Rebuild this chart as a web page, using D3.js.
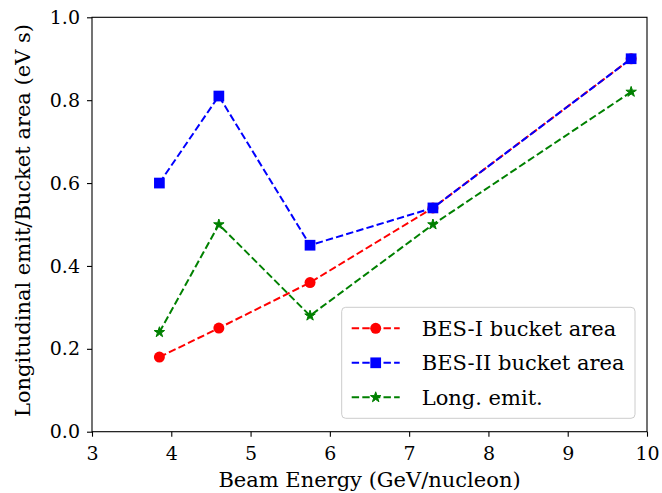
<!DOCTYPE html>
<html>
<head>
<meta charset="utf-8">
<script src="https://cdn.jsdelivr.net/npm/d3@7"></script>
<style>
  html, body { margin: 0; padding: 0; background: #fff; }
  svg text { font-family: "DejaVu Serif", "Liberation Serif", serif; fill: #000; }
</style>
</head>
<body>
<svg id="chart" width="662" height="493"></svg>
<script>
// Beam energies (GeV/nucleon)
const energies = [3.85, 4.6, 5.75, 7.3, 9.8];
// Series values
const besIArea = [0.18, 0.25, 0.36, 0.54, 0.90];
const besIIArea = [0.60, 0.81, 0.45, 0.54, 0.90];
const longEmit = [0.24, 0.50, 0.28, 0.50, 0.82];
// Axis ticks
const xTicks = [3, 4, 5, 6, 7, 8, 9, 10];
const yTicks = [0.0, 0.2, 0.4, 0.6, 0.8, 1.0];

const series = [
  { name: "BES-I bucket area", values: besIArea, color: "#ff0000", marker: "circle" },
  { name: "BES-II bucket area", values: besIIArea, color: "#0000ff", marker: "square" },
  { name: "Long. emit.", values: longEmit, color: "#008000", marker: "star" }
];

const svg = d3.select("#chart");
const margin = { left: 92, right: 15, top: 17.3, bottom: 61.3 };
const W = 662, H = 493;
const x = d3.scaleLinear().domain([3, 10]).range([margin.left, W - margin.right]);
const y = d3.scaleLinear().domain([0, 1]).range([H - margin.bottom, margin.top]);

const symbolFor = {
  circle: d3.symbol().type(d3.symbolCircle).size(95),
  square: d3.symbol().type(d3.symbolSquare).size(115),
  star: d3.symbol().type(d3.symbolStar).size(34)
};

const dash = "7.4,3.2";

// Lines and markers
const line = d3.line().x(d => x(d[0])).y(d => y(d[1]));
series.forEach(s => {
  const pts = energies.map((e, i) => [e, s.values[i]]);
  svg.append("path")
    .attr("d", line(pts))
    .attr("fill", "none")
    .attr("stroke", s.color)
    .attr("stroke-width", 2)
    .attr("stroke-dasharray", dash);
  svg.append("g").selectAll("path").data(pts).join("path")
    .attr("transform", d => `translate(${x(d[0])},${y(d[1])})`)
    .attr("d", symbolFor[s.marker]())
    .attr("fill", s.color)
    .attr("stroke", s.color)
    .attr("stroke-width", s.marker === "star" ? 1 : 0);
});

// Frame
svg.append("rect")
  .attr("x", margin.left).attr("y", margin.top)
  .attr("width", W - margin.right - margin.left)
  .attr("height", H - margin.bottom - margin.top)
  .attr("fill", "none").attr("stroke", "#000").attr("stroke-width", 1.1);

// Axes
const xAxis = svg.append("g")
  .attr("transform", `translate(0,${H - margin.bottom})`)
  .call(d3.axisBottom(x).tickValues(xTicks).tickFormat(d3.format("d")).tickSize(5).tickPadding(7));
const yAxis = svg.append("g")
  .attr("transform", `translate(${margin.left},0)`)
  .call(d3.axisLeft(y).tickValues(yTicks).tickFormat(d3.format(".1f")).tickSize(5).tickPadding(7));
[xAxis, yAxis].forEach(a => {
  a.select(".domain").remove();
  a.selectAll("line").attr("stroke", "#000").attr("stroke-width", 1.1);
  a.selectAll("text").style("font-family", '"DejaVu Serif", serif').style("font-size", "19px").attr("fill", "#000");
});
xAxis.selectAll("text").attr("dy", "0.85em");

// Axis titles
svg.append("text")
  .attr("x", (margin.left + W - margin.right) / 2).attr("y", 487)
  .attr("text-anchor", "middle").style("font-size", "21px")
  .text("Beam Energy (GeV/nucleon)");
svg.append("text")
  .attr("transform", `translate(30,${(margin.top + H - margin.bottom) / 2 - 4}) rotate(-90)`)
  .attr("text-anchor", "middle").style("font-size", "21px")
  .text("Longitudinal emit/Bucket area (eV s)");

// Legend
const lg = svg.append("g").attr("transform", "translate(341.7,307.3)");
lg.append("rect")
  .attr("width", 293.3).attr("height", 111)
  .attr("rx", 4).attr("ry", 4)
  .attr("fill", "#fff").attr("fill-opacity", 0.8)
  .attr("stroke", "#cccccc").attr("stroke-width", 1);
series.forEach((s, i) => {
  const cy = 21 + i * 34.5;
  lg.append("line")
    .attr("x1", 10).attr("x2", 58).attr("y1", cy).attr("y2", cy)
    .attr("stroke", s.color).attr("stroke-width", 2)
    .attr("stroke-dasharray", dash);
  lg.append("path")
    .attr("transform", `translate(34,${cy})`)
    .attr("d", symbolFor[s.marker]())
    .attr("fill", s.color)
    .attr("stroke", s.color)
    .attr("stroke-width", s.marker === "star" ? 1 : 0);
  lg.append("text")
    .attr("x", 80).attr("y", cy).attr("dy", "0.35em")
    .style("font-size", "21px")
    .text(s.name);
});
</script>
</body>
</html>
